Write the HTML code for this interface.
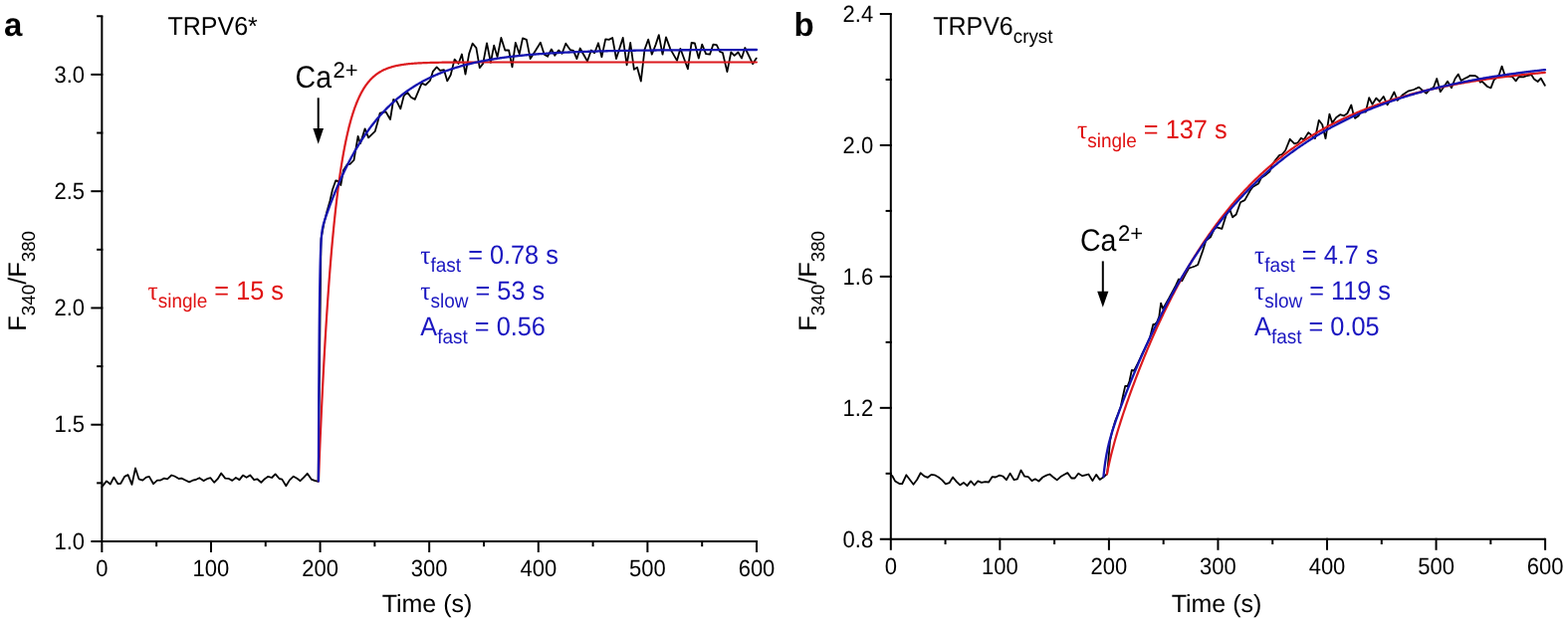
<!DOCTYPE html>
<html><head><meta charset="utf-8"><style>
html,body{margin:0;padding:0;background:#fff;}
svg{display:block;}
text{font-family:'Liberation Sans', Arial, sans-serif;text-rendering:geometricPrecision;}
</style></head><body>
<svg width="1575" height="625" viewBox="0 0 1575 625">
<rect width="1575" height="625" fill="#fff"/>
<line x1="102.35" y1="16.26" x2="102.35" y2="544.00" stroke="#000" stroke-width="2.0"/>
<line x1="91.35" y1="544.00" x2="760.00" y2="544.00" stroke="#000" stroke-width="2.0"/>
<line x1="102.35" y1="543.00" x2="102.35" y2="555.00" stroke="#000" stroke-width="2.0"/>
<line x1="211.96" y1="543.00" x2="211.96" y2="555.00" stroke="#000" stroke-width="2.0"/>
<line x1="321.57" y1="543.00" x2="321.57" y2="555.00" stroke="#000" stroke-width="2.0"/>
<line x1="431.17" y1="543.00" x2="431.17" y2="555.00" stroke="#000" stroke-width="2.0"/>
<line x1="540.78" y1="543.00" x2="540.78" y2="555.00" stroke="#000" stroke-width="2.0"/>
<line x1="650.39" y1="543.00" x2="650.39" y2="555.00" stroke="#000" stroke-width="2.0"/>
<line x1="760.00" y1="543.00" x2="760.00" y2="555.00" stroke="#000" stroke-width="2.0"/>
<line x1="157.15" y1="544.00" x2="157.15" y2="549.20" stroke="#000" stroke-width="2.0"/>
<line x1="266.76" y1="544.00" x2="266.76" y2="549.20" stroke="#000" stroke-width="2.0"/>
<line x1="376.37" y1="544.00" x2="376.37" y2="549.20" stroke="#000" stroke-width="2.0"/>
<line x1="485.98" y1="544.00" x2="485.98" y2="549.20" stroke="#000" stroke-width="2.0"/>
<line x1="595.59" y1="544.00" x2="595.59" y2="549.20" stroke="#000" stroke-width="2.0"/>
<line x1="705.20" y1="544.00" x2="705.20" y2="549.20" stroke="#000" stroke-width="2.0"/>
<line x1="91.35" y1="426.73" x2="103.35" y2="426.73" stroke="#000" stroke-width="2.0"/>
<line x1="91.35" y1="309.45" x2="103.35" y2="309.45" stroke="#000" stroke-width="2.0"/>
<line x1="91.35" y1="192.17" x2="103.35" y2="192.17" stroke="#000" stroke-width="2.0"/>
<line x1="91.35" y1="74.90" x2="103.35" y2="74.90" stroke="#000" stroke-width="2.0"/>
<line x1="97.15" y1="485.36" x2="103.35" y2="485.36" stroke="#000" stroke-width="2.0"/>
<line x1="97.15" y1="368.09" x2="103.35" y2="368.09" stroke="#000" stroke-width="2.0"/>
<line x1="97.15" y1="250.81" x2="103.35" y2="250.81" stroke="#000" stroke-width="2.0"/>
<line x1="97.15" y1="133.54" x2="103.35" y2="133.54" stroke="#000" stroke-width="2.0"/>
<line x1="97.15" y1="16.26" x2="103.35" y2="16.26" stroke="#000" stroke-width="2.0"/>
<line x1="894.80" y1="14.00" x2="894.80" y2="541.80" stroke="#000" stroke-width="2.0"/>
<line x1="883.80" y1="541.80" x2="1552.10" y2="541.80" stroke="#000" stroke-width="2.0"/>
<line x1="894.80" y1="540.80" x2="894.80" y2="552.80" stroke="#000" stroke-width="2.0"/>
<line x1="1004.35" y1="540.80" x2="1004.35" y2="552.80" stroke="#000" stroke-width="2.0"/>
<line x1="1113.90" y1="540.80" x2="1113.90" y2="552.80" stroke="#000" stroke-width="2.0"/>
<line x1="1223.45" y1="540.80" x2="1223.45" y2="552.80" stroke="#000" stroke-width="2.0"/>
<line x1="1333.00" y1="540.80" x2="1333.00" y2="552.80" stroke="#000" stroke-width="2.0"/>
<line x1="1442.55" y1="540.80" x2="1442.55" y2="552.80" stroke="#000" stroke-width="2.0"/>
<line x1="1552.10" y1="540.80" x2="1552.10" y2="552.80" stroke="#000" stroke-width="2.0"/>
<line x1="949.57" y1="541.80" x2="949.57" y2="547.00" stroke="#000" stroke-width="2.0"/>
<line x1="1059.12" y1="541.80" x2="1059.12" y2="547.00" stroke="#000" stroke-width="2.0"/>
<line x1="1168.67" y1="541.80" x2="1168.67" y2="547.00" stroke="#000" stroke-width="2.0"/>
<line x1="1278.22" y1="541.80" x2="1278.22" y2="547.00" stroke="#000" stroke-width="2.0"/>
<line x1="1387.78" y1="541.80" x2="1387.78" y2="547.00" stroke="#000" stroke-width="2.0"/>
<line x1="1497.32" y1="541.80" x2="1497.32" y2="547.00" stroke="#000" stroke-width="2.0"/>
<line x1="883.80" y1="409.85" x2="895.80" y2="409.85" stroke="#000" stroke-width="2.0"/>
<line x1="883.80" y1="277.90" x2="895.80" y2="277.90" stroke="#000" stroke-width="2.0"/>
<line x1="883.80" y1="145.95" x2="895.80" y2="145.95" stroke="#000" stroke-width="2.0"/>
<line x1="883.80" y1="14.00" x2="895.80" y2="14.00" stroke="#000" stroke-width="2.0"/>
<line x1="889.60" y1="475.82" x2="895.80" y2="475.82" stroke="#000" stroke-width="2.0"/>
<line x1="889.60" y1="343.88" x2="895.80" y2="343.88" stroke="#000" stroke-width="2.0"/>
<line x1="889.60" y1="211.93" x2="895.80" y2="211.93" stroke="#000" stroke-width="2.0"/>
<line x1="889.60" y1="79.98" x2="895.80" y2="79.98" stroke="#000" stroke-width="2.0"/>
<polyline points="102.40,489.30 107.00,483.40 110.80,486.50 114.30,479.60 118.50,486.20 121.30,485.80 125.10,478.90 128.60,477.10 132.50,486.90 136.00,470.50 139.50,481.30 143.30,482.70 146.80,479.60 149.90,478.90 154.10,486.20 158.00,482.70 160.80,482.70 164.90,480.60 168.10,481.30 172.30,477.50 175.40,478.50 179.60,481.00 182.40,480.60 186.20,482.50 190.10,484.40 193.60,482.70 196.70,482.00 200.30,480.20 204.40,483.10 207.90,481.20 211.50,480.20 215.10,484.80 218.70,481.20 222.20,475.50 226.20,480.60 229.40,480.80 233.30,482.90 236.90,480.00 240.50,482.10 244.00,477.60 247.60,479.80 251.20,477.40 255.20,482.10 258.30,481.30 262.30,484.80 265.90,481.20 269.40,478.80 273.00,480.00 276.60,476.40 280.60,481.00 283.30,481.60 287.30,488.30 290.90,482.40 294.80,478.70 298.40,480.80 301.60,483.20 305.20,479.60 308.70,475.80 312.70,481.60 315.90,482.90 319.60,483.80 322.50,240.00 325.50,224.00 328.50,212.00 331.40,202.00 334.00,190.50 337.20,181.50 339.50,182.00 342.30,186.00 345.00,171.00 348.80,165.20 351.60,164.80 355.50,160.90 359.60,137.00 362.00,144.20 366.60,129.30 370.10,138.40 376.80,131.80 379.40,122.40 381.70,113.60 387.50,112.30 392.00,120.00 395.20,100.00 398.40,101.60 402.30,109.40 405.60,96.50 409.00,92.60 412.90,97.70 416.80,99.90 423.60,83.70 427.50,85.30 432.00,80.90 434.80,71.90 438.70,67.40 442.10,70.80 446.00,70.20 449.30,81.40 452.70,75.30 456.60,59.60 460.50,64.00 463.90,54.50 467.50,74.60 471.20,53.90 474.60,43.70 478.40,48.10 481.80,68.20 485.20,63.90 489.00,43.30 492.90,62.90 496.20,45.70 499.60,57.20 503.40,38.00 507.30,50.50 511.10,50.50 514.50,67.30 517.80,42.80 521.70,54.30 525.00,38.40 528.90,39.90 532.70,59.10 537.80,51.00 542.90,42.80 546.70,54.80 550.10,56.70 553.90,49.50 557.30,55.70 561.10,50.50 564.50,53.80 568.30,43.70 572.70,50.00 576.00,50.90 579.40,59.10 582.70,48.50 586.30,55.00 590.00,61.50 593.80,50.50 597.20,53.30 601.00,43.30 604.40,57.20 608.20,39.40 611.60,39.90 615.20,38.00 619.00,59.00 625.70,37.90 629.60,65.40 633.20,43.00 636.90,69.90 640.00,67.60 643.80,81.60 647.50,49.70 651.20,39.60 654.80,54.70 658.70,44.60 661.80,35.10 665.50,54.70 669.00,37.40 673.30,49.10 680.00,60.90 683.40,48.80 690.90,69.30 694.60,43.00 697.90,43.50 701.80,58.60 705.20,44.60 709.10,54.20 713.00,54.70 716.40,44.60 719.80,45.20 723.10,51.90 725.90,53.00 730.40,72.10 734.30,52.50 737.70,55.80 741.40,52.50 745.00,58.60 748.30,48.00 752.20,56.00 756.10,64.20 759.70,58.60" fill="none" stroke="#000" stroke-width="1.8" stroke-linejoin="round" stroke-linecap="round"/>
<polyline points="895.00,477.50 896.20,478.00 899.10,483.40 903.40,486.10 906.30,486.00 910.30,477.30 917.50,486.70 921.10,482.00 924.70,475.30 928.30,478.40 931.90,479.80 935.50,476.90 938.70,477.30 942.70,479.50 946.30,482.40 949.90,486.30 953.50,485.20 957.10,479.50 960.70,483.80 964.30,487.40 967.90,484.90 971.50,488.10 975.10,483.40 978.70,487.50 982.30,483.40 985.90,484.90 989.50,484.20 993.10,484.50 996.70,479.10 1000.00,479.50 1004.00,477.60 1007.30,478.50 1010.90,482.20 1014.60,475.60 1018.60,482.20 1021.90,481.30 1025.50,472.50 1029.20,478.70 1032.80,479.10 1036.50,483.10 1039.80,481.30 1043.40,483.50 1047.40,479.50 1051.10,477.60 1054.40,476.50 1058.00,479.50 1061.70,482.40 1065.30,479.10 1068.80,477.00 1072.30,475.10 1076.30,480.50 1079.60,480.50 1083.20,475.80 1087.20,478.20 1090.30,477.30 1093.40,476.50 1097.40,483.10 1101.10,476.90 1104.70,481.90 1108.20,479.60 1112.20,476.00 1115.00,443.00 1117.00,434.00 1120.20,423.00 1123.00,416.00 1125.80,408.50 1127.50,400.00 1130.20,388.00 1132.60,388.00 1134.50,383.00 1136.80,372.00 1139.20,372.50 1143.00,365.00 1146.60,357.00 1150.40,349.40 1152.50,345.00 1155.10,339.00 1158.30,326.00 1159.80,326.00 1162.00,324.00 1164.30,318.00 1166.10,304.60 1168.00,310.00 1170.00,307.00 1174.00,300.00 1177.50,293.50 1181.00,287.00 1184.00,280.50 1187.20,282.40 1191.00,275.00 1194.20,269.50 1197.40,268.50 1200.30,267.50 1203.20,266.00 1208.00,252.40 1211.20,242.00 1216.00,238.00 1219.40,230.60 1222.20,228.40 1227.30,229.90 1231.60,216.20 1235.20,210.40 1238.10,218.30 1241.70,215.50 1246.00,203.20 1250.30,201.10 1256.00,191.00 1258.20,188.10 1264.00,184.50 1266.80,178.80 1270.40,176.60 1275.50,172.30 1277.60,165.80 1281.20,160.80 1285.00,156.00 1288.00,155.00 1291.20,151.00 1295.70,139.80 1300.20,144.30 1303.50,143.50 1306.90,138.70 1309.70,140.40 1314.20,133.10 1317.50,135.90 1320.90,139.20 1324.80,120.80 1328.20,125.20 1331.50,139.20 1335.40,114.60 1338.20,123.60 1342.20,118.00 1346.10,115.20 1350.00,116.30 1353.30,114.00 1357.30,105.50 1359.50,114.90 1361.20,118.80 1364.50,116.60 1367.30,112.10 1371.80,112.60 1375.20,98.10 1378.50,104.80 1382.40,98.60 1385.80,102.00 1389.70,97.00 1393.60,105.40 1397.00,99.20 1400.40,92.50 1403.70,100.90 1408.60,95.60 1414.20,91.70 1420.20,90.00 1425.30,87.60 1429.50,91.40 1432.80,93.70 1436.00,90.00 1440.00,87.80 1443.20,79.00 1446.80,92.20 1450.50,87.00 1454.00,81.80 1458.00,88.20 1461.60,79.00 1464.80,74.60 1467.60,81.00 1471.00,79.00 1474.40,77.40 1476.40,76.00 1482.00,76.20 1484.40,77.80 1486.80,82.60 1488.80,81.80 1494.00,87.00 1497.50,88.40 1500.60,80.40 1505.40,76.20 1508.60,66.60 1511.60,75.80 1515.80,76.60 1519.00,77.00 1522.60,81.40 1525.80,77.00 1530.20,77.40 1534.00,76.00 1538.20,75.00 1541.00,79.60 1544.60,82.00 1547.80,78.70 1551.80,85.80" fill="none" stroke="#000" stroke-width="1.8" stroke-linejoin="round" stroke-linecap="round"/>
<polyline points="319.90,483.50 320.40,470.89 320.90,458.66 321.40,446.79 321.90,435.28 322.40,424.11 322.90,413.28 323.40,402.77 323.90,392.58 324.40,382.69 324.90,373.10 325.40,363.79 325.90,354.77 326.40,346.01 326.90,337.52 327.40,329.28 327.90,321.29 328.40,313.54 328.90,306.02 329.40,298.72 329.90,291.65 330.40,284.78 330.90,278.12 331.40,271.66 331.90,265.40 332.40,259.32 332.90,253.42 333.40,247.71 333.90,242.16 334.40,236.78 334.90,231.55 335.40,226.49 335.90,221.58 336.40,216.81 336.90,212.19 337.40,207.71 337.90,203.36 338.40,199.14 338.90,195.04 339.40,191.07 339.90,187.22 340.40,183.49 340.90,179.86 341.40,176.35 341.90,172.94 342.40,169.63 342.90,166.42 343.40,163.31 343.90,160.29 344.40,157.36 344.90,154.51 345.40,151.76 345.90,149.08 346.40,146.49 346.90,143.98 347.40,141.53 347.90,139.17 348.40,136.87 348.90,134.64 349.40,132.48 349.90,130.39 350.40,128.35 350.90,126.38 351.40,124.47 351.90,122.61 352.40,120.81 352.90,119.06 353.40,117.37 353.90,115.72 354.40,114.13 354.90,112.58 355.40,111.08 355.90,109.63 356.40,108.22 356.90,106.85 357.40,105.52 357.90,104.23 358.40,102.98 358.90,101.77 359.40,100.59 359.90,99.45 360.40,98.34 360.90,97.27 361.40,96.23 361.90,95.22 362.40,94.24 362.90,93.29 363.40,92.36 363.90,91.47 364.40,90.60 364.90,89.76 365.40,88.94 365.90,88.15 366.40,87.38 366.90,86.64 367.40,85.91 367.90,85.21 368.40,84.53 368.90,83.87 369.40,83.23 369.90,82.61 370.40,82.01 370.90,81.42 371.40,80.86 371.90,80.31 372.40,79.77 372.90,79.26 373.40,78.75 373.90,78.27 374.40,77.80 374.90,77.34 375.40,76.89 375.90,76.46 376.40,76.04 376.90,75.64 377.40,75.24 377.90,74.86 378.40,74.49 378.90,74.13 379.40,73.78 379.90,73.45 380.40,73.12 380.90,72.80 381.40,72.49 381.90,72.19 382.40,71.90 382.90,71.62 383.40,71.35 383.90,71.08 384.40,70.83 384.90,70.58 385.40,70.33 385.90,70.10 386.40,69.87 386.90,69.65 387.40,69.44 387.90,69.23 388.40,69.03 388.90,68.83 389.40,68.64 389.90,68.46 390.40,68.28 390.90,68.11 391.40,67.94 391.90,67.78 392.40,67.62 392.90,67.46 393.40,67.32 393.90,67.17 394.40,67.03 394.90,66.90 395.40,66.76 395.90,66.64 396.40,66.51 396.90,66.39 397.40,66.28 397.90,66.16 398.40,66.05 398.90,65.95 399.40,65.84 399.90,65.74 400.40,65.65 400.90,65.55 401.40,65.46 401.90,65.37 402.40,65.29 402.90,65.20 403.40,65.12 403.90,65.04 404.40,64.97 404.90,64.89 405.40,64.82 405.90,64.75 406.40,64.68 406.90,64.62 407.40,64.55 407.90,64.49 408.40,64.43 408.90,64.38 409.40,64.32 409.90,64.27 410.40,64.21 410.90,64.16 411.40,64.11 411.90,64.06 412.40,64.02 412.90,63.97 413.40,63.93 413.90,63.88 414.40,63.84 414.90,63.80 415.40,63.76 415.90,63.73 416.40,63.69 416.90,63.65 417.40,63.62 417.90,63.58 418.40,63.55 418.90,63.52 419.40,63.49 419.90,63.46 420.40,63.43 420.90,63.40 421.40,63.38 421.90,63.35 422.40,63.33 422.90,63.30 423.40,63.28 423.90,63.25 424.40,63.23 424.90,63.21 425.40,63.19 425.90,63.17 426.40,63.15 426.90,63.13 427.40,63.11 427.90,63.09 428.40,63.07 428.90,63.06 429.40,63.04 429.90,63.02 430.40,63.01 430.90,62.99 431.40,62.98 431.90,62.96 432.40,62.95 432.90,62.94 433.40,62.92 433.90,62.91 434.40,62.90 434.90,62.89 435.40,62.87 435.90,62.86 436.40,62.85 436.90,62.84 437.40,62.83 437.90,62.82 438.40,62.81 438.90,62.80 439.40,62.79 439.90,62.78 440.40,62.78 440.90,62.77 441.40,62.76 441.90,62.75 442.40,62.74 442.90,62.74 443.40,62.73 443.90,62.72 444.40,62.72 444.90,62.71 445.40,62.70 445.90,62.70 446.40,62.69 446.90,62.69 447.40,62.68 447.90,62.67 448.40,62.67 448.90,62.66 449.40,62.66 449.90,62.65 450.40,62.65 450.90,62.65 451.40,62.64 451.90,62.64 452.40,62.63 452.90,62.63 453.40,62.63 453.90,62.62 454.40,62.62 454.90,62.61 455.40,62.61 455.90,62.61 456.40,62.60 456.90,62.60 457.40,62.60 457.90,62.60 458.40,62.59 458.90,62.59 459.40,62.59 459.90,62.58 460.40,62.58 460.90,62.58 461.40,62.58 461.90,62.57 462.40,62.57 462.90,62.57 463.40,62.57 463.90,62.57 464.40,62.56 464.90,62.56 465.40,62.56 465.90,62.56 466.40,62.56 466.90,62.56 467.40,62.55 467.90,62.55 468.40,62.55 468.90,62.55 469.40,62.55 469.90,62.55 470.40,62.54 470.90,62.54 471.40,62.54 471.90,62.54 472.40,62.54 472.90,62.54 473.40,62.54 473.90,62.54 474.40,62.53 474.90,62.53 475.40,62.53 475.90,62.53 476.40,62.53 476.90,62.53 477.40,62.53 477.90,62.53 478.40,62.53 478.90,62.53 479.40,62.53 479.90,62.52 480.40,62.52 480.90,62.52 481.40,62.52 481.90,62.52 482.40,62.52 482.90,62.52 483.40,62.52 483.90,62.52 484.40,62.52 484.90,62.52 485.40,62.52 485.90,62.52 486.40,62.52 486.90,62.52 487.40,62.52 487.90,62.52 488.40,62.51 488.90,62.51 489.40,62.51 489.90,62.51 490.40,62.51 490.90,62.51 491.40,62.51 491.90,62.51 492.40,62.51 492.90,62.51 493.40,62.51 493.90,62.51 494.40,62.51 494.90,62.51 495.40,62.51 495.90,62.51 496.40,62.51 496.90,62.51 497.40,62.51 497.90,62.51 498.40,62.51 498.90,62.51 499.40,62.51 499.90,62.51 500.40,62.51 500.90,62.51 501.40,62.51 501.90,62.51 502.40,62.51 502.90,62.51 503.40,62.51 503.90,62.51 504.40,62.51 504.90,62.51 505.40,62.51 505.90,62.51 506.40,62.50 506.90,62.50 507.40,62.50 507.90,62.50 508.40,62.50 508.90,62.50 509.40,62.50 509.90,62.50 510.40,62.50 510.90,62.50 511.40,62.50 511.90,62.50 512.40,62.50 512.90,62.50 513.40,62.50 513.90,62.50 514.40,62.50 514.90,62.50 515.40,62.50 515.90,62.50 516.40,62.50 516.90,62.50 517.40,62.50 517.90,62.50 518.40,62.50 518.90,62.50 519.40,62.50 519.90,62.50 520.40,62.50 520.90,62.50 521.40,62.50 521.90,62.50 522.40,62.50 522.90,62.50 523.40,62.50 523.90,62.50 524.40,62.50 524.90,62.50 525.40,62.50 525.90,62.50 526.40,62.50 526.90,62.50 527.40,62.50 527.90,62.50 528.40,62.50 528.90,62.50 529.40,62.50 529.90,62.50 530.40,62.50 530.90,62.50 531.40,62.50 531.90,62.50 532.40,62.50 532.90,62.50 533.40,62.50 533.90,62.50 534.40,62.50 534.90,62.50 535.40,62.50 535.90,62.50 536.40,62.50 536.90,62.50 537.40,62.50 537.90,62.50 538.40,62.50 538.90,62.50 539.40,62.50 539.90,62.50 540.40,62.50 540.90,62.50 541.40,62.50 541.90,62.50 542.40,62.50 542.90,62.50 543.40,62.50 543.90,62.50 544.40,62.50 544.90,62.50 545.40,62.50 545.90,62.50 546.40,62.50 546.90,62.50 547.40,62.50 547.90,62.50 548.40,62.50 548.90,62.50 549.40,62.50 549.90,62.50 550.40,62.50 550.90,62.50 551.40,62.50 551.90,62.50 552.40,62.50 552.90,62.50 553.40,62.50 553.90,62.50 554.40,62.50 554.90,62.50 555.40,62.50 555.90,62.50 556.40,62.50 556.90,62.50 557.40,62.50 557.90,62.50 558.40,62.50 558.90,62.50 559.40,62.50 559.90,62.50 560.40,62.50 560.90,62.50 561.40,62.50 561.90,62.50 562.40,62.50 562.90,62.50 563.40,62.50 563.90,62.50 564.40,62.50 564.90,62.50 565.40,62.50 565.90,62.50 566.40,62.50 566.90,62.50 567.40,62.50 567.90,62.50 568.40,62.50 568.90,62.50 569.40,62.50 569.90,62.50 570.40,62.50 570.90,62.50 571.40,62.50 571.90,62.50 572.40,62.50 572.90,62.50 573.40,62.50 573.90,62.50 574.40,62.50 574.90,62.50 575.40,62.50 575.90,62.50 576.40,62.50 576.90,62.50 577.40,62.50 577.90,62.50 578.40,62.50 578.90,62.50 579.40,62.50 579.90,62.50 580.40,62.50 580.90,62.50 581.40,62.50 581.90,62.50 582.40,62.50 582.90,62.50 583.40,62.50 583.90,62.50 584.40,62.50 584.90,62.50 585.40,62.50 585.90,62.50 586.40,62.50 586.90,62.50 587.40,62.50 587.90,62.50 588.40,62.50 588.90,62.50 589.40,62.50 589.90,62.50 590.40,62.50 590.90,62.50 591.40,62.50 591.90,62.50 592.40,62.50 592.90,62.50 593.40,62.50 593.90,62.50 594.40,62.50 594.90,62.50 595.40,62.50 595.90,62.50 596.40,62.50 596.90,62.50 597.40,62.50 597.90,62.50 598.40,62.50 598.90,62.50 599.40,62.50 599.90,62.50 600.40,62.50 600.90,62.50 601.40,62.50 601.90,62.50 602.40,62.50 602.90,62.50 603.40,62.50 603.90,62.50 604.40,62.50 604.90,62.50 605.40,62.50 605.90,62.50 606.40,62.50 606.90,62.50 607.40,62.50 607.90,62.50 608.40,62.50 608.90,62.50 609.40,62.50 609.90,62.50 610.40,62.50 610.90,62.50 611.40,62.50 611.90,62.50 612.40,62.50 612.90,62.50 613.40,62.50 613.90,62.50 614.40,62.50 614.90,62.50 615.40,62.50 615.90,62.50 616.40,62.50 616.90,62.50 617.40,62.50 617.90,62.50 618.40,62.50 618.90,62.50 619.40,62.50 619.90,62.50 620.40,62.50 620.90,62.50 621.40,62.50 621.90,62.50 622.40,62.50 622.90,62.50 623.40,62.50 623.90,62.50 624.40,62.50 624.90,62.50 625.40,62.50 625.90,62.50 626.40,62.50 626.90,62.50 627.40,62.50 627.90,62.50 628.40,62.50 628.90,62.50 629.40,62.50 629.90,62.50 630.40,62.50 630.90,62.50 631.40,62.50 631.90,62.50 632.40,62.50 632.90,62.50 633.40,62.50 633.90,62.50 634.40,62.50 634.90,62.50 635.40,62.50 635.90,62.50 636.40,62.50 636.90,62.50 637.40,62.50 637.90,62.50 638.40,62.50 638.90,62.50 639.40,62.50 639.90,62.50 640.40,62.50 640.90,62.50 641.40,62.50 641.90,62.50 642.40,62.50 642.90,62.50 643.40,62.50 643.90,62.50 644.40,62.50 644.90,62.50 645.40,62.50 645.90,62.50 646.40,62.50 646.90,62.50 647.40,62.50 647.90,62.50 648.40,62.50 648.90,62.50 649.40,62.50 649.90,62.50 650.40,62.50 650.90,62.50 651.40,62.50 651.90,62.50 652.40,62.50 652.90,62.50 653.40,62.50 653.90,62.50 654.40,62.50 654.90,62.50 655.40,62.50 655.90,62.50 656.40,62.50 656.90,62.50 657.40,62.50 657.90,62.50 658.40,62.50 658.90,62.50 659.40,62.50 659.90,62.50 660.40,62.50 660.90,62.50 661.40,62.50 661.90,62.50 662.40,62.50 662.90,62.50 663.40,62.50 663.90,62.50 664.40,62.50 664.90,62.50 665.40,62.50 665.90,62.50 666.40,62.50 666.90,62.50 667.40,62.50 667.90,62.50 668.40,62.50 668.90,62.50 669.40,62.50 669.90,62.50 670.40,62.50 670.90,62.50 671.40,62.50 671.90,62.50 672.40,62.50 672.90,62.50 673.40,62.50 673.90,62.50 674.40,62.50 674.90,62.50 675.40,62.50 675.90,62.50 676.40,62.50 676.90,62.50 677.40,62.50 677.90,62.50 678.40,62.50 678.90,62.50 679.40,62.50 679.90,62.50 680.40,62.50 680.90,62.50 681.40,62.50 681.90,62.50 682.40,62.50 682.90,62.50 683.40,62.50 683.90,62.50 684.40,62.50 684.90,62.50 685.40,62.50 685.90,62.50 686.40,62.50 686.90,62.50 687.40,62.50 687.90,62.50 688.40,62.50 688.90,62.50 689.40,62.50 689.90,62.50 690.40,62.50 690.90,62.50 691.40,62.50 691.90,62.50 692.40,62.50 692.90,62.50 693.40,62.50 693.90,62.50 694.40,62.50 694.90,62.50 695.40,62.50 695.90,62.50 696.40,62.50 696.90,62.50 697.40,62.50 697.90,62.50 698.40,62.50 698.90,62.50 699.40,62.50 699.90,62.50 700.40,62.50 700.90,62.50 701.40,62.50 701.90,62.50 702.40,62.50 702.90,62.50 703.40,62.50 703.90,62.50 704.40,62.50 704.90,62.50 705.40,62.50 705.90,62.50 706.40,62.50 706.90,62.50 707.40,62.50 707.90,62.50 708.40,62.50 708.90,62.50 709.40,62.50 709.90,62.50 710.40,62.50 710.90,62.50 711.40,62.50 711.90,62.50 712.40,62.50 712.90,62.50 713.40,62.50 713.90,62.50 714.40,62.50 714.90,62.50 715.40,62.50 715.90,62.50 716.40,62.50 716.90,62.50 717.40,62.50 717.90,62.50 718.40,62.50 718.90,62.50 719.40,62.50 719.90,62.50 720.40,62.50 720.90,62.50 721.40,62.50 721.90,62.50 722.40,62.50 722.90,62.50 723.40,62.50 723.90,62.50 724.40,62.50 724.90,62.50 725.40,62.50 725.90,62.50 726.40,62.50 726.90,62.50 727.40,62.50 727.90,62.50 728.40,62.50 728.90,62.50 729.40,62.50 729.90,62.50 730.40,62.50 730.90,62.50 731.40,62.50 731.90,62.50 732.40,62.50 732.90,62.50 733.40,62.50 733.90,62.50 734.40,62.50 734.90,62.50 735.40,62.50 735.90,62.50 736.40,62.50 736.90,62.50 737.40,62.50 737.90,62.50 738.40,62.50 738.90,62.50 739.40,62.50 739.90,62.50 740.40,62.50 740.90,62.50 741.40,62.50 741.90,62.50 742.40,62.50 742.90,62.50 743.40,62.50 743.90,62.50 744.40,62.50 744.90,62.50 745.40,62.50 745.90,62.50 746.40,62.50 746.90,62.50 747.40,62.50 747.90,62.50 748.40,62.50 748.90,62.50 749.40,62.50 749.90,62.50 750.40,62.50 750.90,62.50 751.40,62.50 751.90,62.50 752.40,62.50 752.90,62.50 753.40,62.50 753.90,62.50 754.40,62.50 754.90,62.50 755.40,62.50 755.90,62.50 756.40,62.50 756.90,62.50 757.40,62.50 757.90,62.50 758.40,62.50 758.90,62.50 759.40,62.50 759.90,62.50" fill="none" stroke="#dc1a1e" stroke-width="2.2" stroke-linejoin="round" stroke-linecap="round"/>
<polyline points="319.90,483.50 320.00,456.32 320.10,432.11 320.20,410.53 320.30,391.30 320.40,374.15 320.50,358.87 320.60,345.24 320.70,333.07 320.80,322.22 320.90,312.52 321.00,303.87 321.10,296.13 321.20,289.21 321.30,283.02 321.40,277.48 321.50,272.52 321.60,268.07 321.70,264.08 321.80,260.49 321.90,257.27 322.00,254.37 322.10,251.75 322.20,249.39 322.30,247.26 322.40,245.32 322.50,243.57 322.60,241.97 322.70,240.52 322.80,239.20 322.90,237.99 323.00,236.87 323.10,235.85 323.20,234.91 323.30,234.03 323.40,233.22 323.50,232.47 323.60,231.77 323.70,231.11 323.80,230.49 323.90,229.90 324.00,229.35 324.10,228.83 324.20,228.33 324.30,227.85 324.40,227.39 324.50,226.95 324.60,226.53 324.70,226.12 324.80,225.72 324.90,225.34 325.00,224.96 325.10,224.60 325.20,224.24 325.30,223.89 325.40,223.54 325.50,223.20 325.60,222.87 325.70,222.54 325.80,222.22 325.90,221.90 326.00,221.58 326.00,221.58 327.00,218.55 328.00,215.65 329.00,212.83 330.00,210.07 331.00,207.36 332.00,204.70 333.00,202.08 334.00,199.50 335.00,196.97 336.00,194.48 337.00,192.04 338.00,189.63 339.00,187.27 340.00,184.94 341.00,182.66 342.00,180.41 343.00,178.20 344.00,176.03 345.00,173.90 346.00,171.80 347.00,169.74 348.00,167.71 349.00,165.72 350.00,163.76 351.00,161.83 352.00,159.94 353.00,158.08 354.00,156.25 355.00,154.45 356.00,152.68 357.00,150.94 358.00,149.23 359.00,147.55 360.00,145.90 361.00,144.27 362.00,142.67 363.00,141.10 364.00,139.56 365.00,138.04 366.00,136.55 367.00,135.09 368.00,133.65 369.00,132.23 370.00,130.84 371.00,129.47 372.00,128.12 373.00,126.80 374.00,125.50 375.00,124.22 376.00,122.96 377.00,121.72 378.00,120.51 379.00,119.31 380.00,118.14 381.00,116.98 382.00,115.85 383.00,114.73 384.00,113.64 385.00,112.56 386.00,111.50 387.00,110.45 388.00,109.43 389.00,108.42 390.00,107.43 391.00,106.46 392.00,105.50 393.00,104.56 394.00,103.64 395.00,102.73 396.00,101.83 397.00,100.95 398.00,100.09 399.00,99.24 400.00,98.41 401.00,97.59 402.00,96.78 403.00,95.99 404.00,95.21 405.00,94.44 406.00,93.69 407.00,92.95 408.00,92.22 409.00,91.50 410.00,90.80 411.00,90.11 412.00,89.42 413.00,88.76 414.00,88.10 415.00,87.45 416.00,86.82 417.00,86.19 418.00,85.58 419.00,84.97 420.00,84.38 421.00,83.80 422.00,83.22 423.00,82.66 424.00,82.11 425.00,81.56 426.00,81.03 427.00,80.50 428.00,79.98 429.00,79.47 430.00,78.97 431.00,78.48 432.00,78.00 433.00,77.52 434.00,77.05 435.00,76.59 436.00,76.14 437.00,75.70 438.00,75.26 439.00,74.83 440.00,74.41 441.00,74.00 442.00,73.59 443.00,73.19 444.00,72.79 445.00,72.41 446.00,72.03 447.00,71.65 448.00,71.28 449.00,70.92 450.00,70.57 451.00,70.22 452.00,69.87 453.00,69.53 454.00,69.20 455.00,68.88 456.00,68.55 457.00,68.24 458.00,67.93 459.00,67.62 460.00,67.32 461.00,67.03 462.00,66.74 463.00,66.45 464.00,66.17 465.00,65.90 466.00,65.63 467.00,65.36 468.00,65.10 469.00,64.84 470.00,64.59 471.00,64.34 472.00,64.10 473.00,63.86 474.00,63.62 475.00,63.39 476.00,63.16 477.00,62.94 478.00,62.72 479.00,62.50 480.00,62.29 481.00,62.08 482.00,61.87 483.00,61.67 484.00,61.47 485.00,61.27 486.00,61.08 487.00,60.89 488.00,60.70 489.00,60.52 490.00,60.34 491.00,60.17 492.00,59.99 493.00,59.82 494.00,59.65 495.00,59.49 496.00,59.33 497.00,59.17 498.00,59.01 499.00,58.86 500.00,58.70 501.00,58.56 502.00,58.41 503.00,58.26 504.00,58.12 505.00,57.98 506.00,57.85 507.00,57.71 508.00,57.58 509.00,57.45 510.00,57.32 511.00,57.20 512.00,57.07 513.00,56.95 514.00,56.83 515.00,56.72 516.00,56.60 517.00,56.49 518.00,56.38 519.00,56.27 520.00,56.16 521.00,56.05 522.00,55.95 523.00,55.85 524.00,55.75 525.00,55.65 526.00,55.55 527.00,55.45 528.00,55.36 529.00,55.27 530.00,55.18 531.00,55.09 532.00,55.00 533.00,54.91 534.00,54.83 535.00,54.75 536.00,54.66 537.00,54.58 538.00,54.50 539.00,54.43 540.00,54.35 541.00,54.27 542.00,54.20 543.00,54.13 544.00,54.06 545.00,53.98 546.00,53.92 547.00,53.85 548.00,53.78 549.00,53.72 550.00,53.65 551.00,53.59 552.00,53.52 553.00,53.46 554.00,53.40 555.00,53.34 556.00,53.29 557.00,53.23 558.00,53.17 559.00,53.12 560.00,53.06 561.00,53.01 562.00,52.96 563.00,52.90 564.00,52.85 565.00,52.80 566.00,52.75 567.00,52.71 568.00,52.66 569.00,52.61 570.00,52.57 571.00,52.52 572.00,52.48 573.00,52.43 574.00,52.39 575.00,52.35 576.00,52.31 577.00,52.27 578.00,52.23 579.00,52.19 580.00,52.15 581.00,52.11 582.00,52.07 583.00,52.04 584.00,52.00 585.00,51.96 586.00,51.93 587.00,51.89 588.00,51.86 589.00,51.83 590.00,51.80 591.00,51.76 592.00,51.73 593.00,51.70 594.00,51.67 595.00,51.64 596.00,51.61 597.00,51.58 598.00,51.55 599.00,51.53 600.00,51.50 601.00,51.47 602.00,51.44 603.00,51.42 604.00,51.39 605.00,51.37 606.00,51.34 607.00,51.32 608.00,51.29 609.00,51.27 610.00,51.25 611.00,51.22 612.00,51.20 613.00,51.18 614.00,51.16 615.00,51.14 616.00,51.12 617.00,51.10 618.00,51.08 619.00,51.06 620.00,51.04 621.00,51.02 622.00,51.00 623.00,50.98 624.00,50.96 625.00,50.94 626.00,50.93 627.00,50.91 628.00,50.89 629.00,50.87 630.00,50.86 631.00,50.84 632.00,50.83 633.00,50.81 634.00,50.79 635.00,50.78 636.00,50.76 637.00,50.75 638.00,50.74 639.00,50.72 640.00,50.71 641.00,50.69 642.00,50.68 643.00,50.67 644.00,50.65 645.00,50.64 646.00,50.63 647.00,50.62 648.00,50.60 649.00,50.59 650.00,50.58 651.00,50.57 652.00,50.56 653.00,50.55 654.00,50.54 655.00,50.53 656.00,50.51 657.00,50.50 658.00,50.49 659.00,50.48 660.00,50.47 661.00,50.46 662.00,50.45 663.00,50.45 664.00,50.44 665.00,50.43 666.00,50.42 667.00,50.41 668.00,50.40 669.00,50.39 670.00,50.38 671.00,50.38 672.00,50.37 673.00,50.36 674.00,50.35 675.00,50.34 676.00,50.34 677.00,50.33 678.00,50.32 679.00,50.32 680.00,50.31 681.00,50.30 682.00,50.29 683.00,50.29 684.00,50.28 685.00,50.27 686.00,50.27 687.00,50.26 688.00,50.26 689.00,50.25 690.00,50.24 691.00,50.24 692.00,50.23 693.00,50.23 694.00,50.22 695.00,50.22 696.00,50.21 697.00,50.21 698.00,50.20 699.00,50.20 700.00,50.19 701.00,50.19 702.00,50.18 703.00,50.18 704.00,50.17 705.00,50.17 706.00,50.16 707.00,50.16 708.00,50.15 709.00,50.15 710.00,50.14 711.00,50.14 712.00,50.14 713.00,50.13 714.00,50.13 715.00,50.12 716.00,50.12 717.00,50.12 718.00,50.11 719.00,50.11 720.00,50.11 721.00,50.10 722.00,50.10 723.00,50.10 724.00,50.09 725.00,50.09 726.00,50.09 727.00,50.08 728.00,50.08 729.00,50.08 730.00,50.07 731.00,50.07 732.00,50.07 733.00,50.07 734.00,50.06 735.00,50.06 736.00,50.06 737.00,50.05 738.00,50.05 739.00,50.05 740.00,50.05 741.00,50.04 742.00,50.04 743.00,50.04 744.00,50.04 745.00,50.03 746.00,50.03 747.00,50.03 748.00,50.03 749.00,50.03 750.00,50.02 751.00,50.02 752.00,50.02 753.00,50.02 754.00,50.02 755.00,50.01 756.00,50.01 757.00,50.01 758.00,50.01 759.00,50.01 760.00,50.00" fill="none" stroke="#1414b0" stroke-width="2.3" stroke-linejoin="round" stroke-linecap="round"/>
<polyline points="1111.80,476.50 1112.80,471.58 1113.80,466.93 1114.80,462.52 1115.80,458.32 1116.80,454.30 1117.80,450.44 1118.80,446.70 1119.80,443.08 1120.80,439.57 1121.80,436.14 1122.80,432.80 1123.80,429.52 1124.80,426.31 1125.80,423.16 1126.80,420.06 1127.80,417.01 1128.80,414.00 1129.80,411.03 1130.80,408.09 1131.80,405.20 1132.80,402.33 1133.80,399.50 1134.80,396.70 1135.80,393.93 1136.80,391.18 1137.80,388.46 1138.80,385.77 1139.80,383.10 1140.80,380.45 1141.80,377.83 1142.80,375.24 1143.80,372.66 1144.80,370.11 1145.80,367.58 1146.80,365.07 1147.80,362.58 1148.80,360.11 1149.80,357.67 1150.80,355.24 1151.80,352.84 1152.80,350.45 1153.80,348.09 1154.80,345.74 1155.80,343.42 1156.80,341.11 1157.80,338.82 1158.80,336.55 1159.80,334.30 1160.80,332.07 1161.80,329.86 1162.80,327.66 1163.80,325.48 1164.80,323.32 1165.80,321.18 1166.80,319.06 1167.80,316.95 1168.80,314.86 1169.80,312.79 1170.80,310.74 1171.80,308.70 1172.80,306.68 1173.80,304.67 1174.80,302.68 1175.80,300.71 1176.80,298.75 1177.80,296.81 1178.80,294.89 1179.80,292.98 1180.80,291.09 1181.80,289.21 1182.80,287.35 1183.80,285.50 1184.80,283.67 1185.80,281.86 1186.80,280.05 1187.80,278.27 1188.80,276.49 1189.80,274.74 1190.80,272.99 1191.80,271.27 1192.80,269.55 1193.80,267.85 1194.80,266.16 1195.80,264.49 1196.80,262.83 1197.80,261.19 1198.80,259.55 1199.80,257.93 1200.80,256.33 1201.80,254.74 1202.80,253.16 1203.80,251.59 1204.80,250.04 1205.80,248.50 1206.80,246.97 1207.80,245.45 1208.80,243.95 1209.80,242.46 1210.80,240.98 1211.80,239.52 1212.80,238.06 1213.80,236.62 1214.80,235.19 1215.80,233.77 1216.80,232.36 1217.80,230.97 1218.80,229.58 1219.80,228.21 1220.80,226.85 1221.80,225.50 1222.80,224.16 1223.80,222.83 1224.80,221.51 1225.80,220.20 1226.80,218.91 1227.80,217.62 1228.80,216.35 1229.80,215.08 1230.80,213.83 1231.80,212.58 1232.80,211.35 1233.80,210.13 1234.80,208.91 1235.80,207.71 1236.80,206.52 1237.80,205.33 1238.80,204.16 1239.80,202.99 1240.80,201.84 1241.80,200.69 1242.80,199.56 1243.80,198.43 1244.80,197.31 1245.80,196.20 1246.80,195.10 1247.80,194.01 1248.80,192.93 1249.80,191.86 1250.80,190.80 1251.80,189.74 1252.80,188.70 1253.80,187.66 1254.80,186.63 1255.80,185.61 1256.80,184.59 1257.80,183.59 1258.80,182.59 1259.80,181.61 1260.80,180.63 1261.80,179.66 1262.80,178.69 1263.80,177.74 1264.80,176.79 1265.80,175.85 1266.80,174.91 1267.80,173.99 1268.80,173.07 1269.80,172.16 1270.80,171.26 1271.80,170.37 1272.80,169.48 1273.80,168.60 1274.80,167.72 1275.80,166.86 1276.80,166.00 1277.80,165.15 1278.80,164.30 1279.80,163.47 1280.80,162.63 1281.80,161.81 1282.80,160.99 1283.80,160.18 1284.80,159.38 1285.80,158.58 1286.80,157.79 1287.80,157.01 1288.80,156.23 1289.80,155.46 1290.80,154.69 1291.80,153.93 1292.80,153.18 1293.80,152.43 1294.80,151.69 1295.80,150.96 1296.80,150.23 1297.80,149.51 1298.80,148.79 1299.80,148.08 1300.80,147.37 1301.80,146.67 1302.80,145.98 1303.80,145.29 1304.80,144.61 1305.80,143.93 1306.80,143.26 1307.80,142.60 1308.80,141.94 1309.80,141.28 1310.80,140.63 1311.80,139.99 1312.80,139.35 1313.80,138.72 1314.80,138.09 1315.80,137.47 1316.80,136.85 1317.80,136.24 1318.80,135.63 1319.80,135.03 1320.80,134.43 1321.80,133.84 1322.80,133.25 1323.80,132.66 1324.80,132.09 1325.80,131.51 1326.80,130.94 1327.80,130.38 1328.80,129.82 1329.80,129.26 1330.80,128.71 1331.80,128.17 1332.80,127.62 1333.80,127.09 1334.80,126.55 1335.80,126.03 1336.80,125.50 1337.80,124.98 1338.80,124.47 1339.80,123.96 1340.80,123.45 1341.80,122.95 1342.80,122.45 1343.80,121.95 1344.80,121.46 1345.80,120.97 1346.80,120.49 1347.80,120.01 1348.80,119.54 1349.80,119.07 1350.80,118.60 1351.80,118.14 1352.80,117.68 1353.80,117.22 1354.80,116.77 1355.80,116.32 1356.80,115.88 1357.80,115.44 1358.80,115.00 1359.80,114.57 1360.80,114.14 1361.80,113.71 1362.80,113.29 1363.80,112.87 1364.80,112.45 1365.80,112.04 1366.80,111.63 1367.80,111.22 1368.80,110.82 1369.80,110.42 1370.80,110.02 1371.80,109.63 1372.80,109.24 1373.80,108.85 1374.80,108.47 1375.80,108.09 1376.80,107.71 1377.80,107.34 1378.80,106.97 1379.80,106.60 1380.80,106.24 1381.80,105.87 1382.80,105.51 1383.80,105.16 1384.80,104.81 1385.80,104.46 1386.80,104.11 1387.80,103.76 1388.80,103.42 1389.80,103.08 1390.80,102.75 1391.80,102.41 1392.80,102.08 1393.80,101.76 1394.80,101.43 1395.80,101.11 1396.80,100.79 1397.80,100.47 1398.80,100.16 1399.80,99.84 1400.80,99.53 1401.80,99.23 1402.80,98.92 1403.80,98.62 1404.80,98.32 1405.80,98.02 1406.80,97.73 1407.80,97.44 1408.80,97.15 1409.80,96.86 1410.80,96.58 1411.80,96.29 1412.80,96.01 1413.80,95.73 1414.80,95.46 1415.80,95.19 1416.80,94.91 1417.80,94.65 1418.80,94.38 1419.80,94.11 1420.80,93.85 1421.80,93.59 1422.80,93.33 1423.80,93.08 1424.80,92.82 1425.80,92.57 1426.80,92.32 1427.80,92.07 1428.80,91.83 1429.80,91.58 1430.80,91.34 1431.80,91.10 1432.80,90.86 1433.80,90.63 1434.80,90.39 1435.80,90.16 1436.80,89.93 1437.80,89.70 1438.80,89.48 1439.80,89.25 1440.80,89.03 1441.80,88.81 1442.80,88.59 1443.80,88.37 1444.80,88.16 1445.80,87.94 1446.80,87.73 1447.80,87.52 1448.80,87.31 1449.80,87.11 1450.80,86.90 1451.80,86.70 1452.80,86.50 1453.80,86.30 1454.80,86.10 1455.80,85.90 1456.80,85.71 1457.80,85.51 1458.80,85.32 1459.80,85.13 1460.80,84.94 1461.80,84.75 1462.80,84.57 1463.80,84.38 1464.80,84.20 1465.80,84.02 1466.80,83.84 1467.80,83.66 1468.80,83.48 1469.80,83.31 1470.80,83.14 1471.80,82.96 1472.80,82.79 1473.80,82.62 1474.80,82.45 1475.80,82.29 1476.80,82.12 1477.80,81.96 1478.80,81.79 1479.80,81.63 1480.80,81.47 1481.80,81.31 1482.80,81.16 1483.80,81.00 1484.80,80.84 1485.80,80.69 1486.80,80.54 1487.80,80.39 1488.80,80.24 1489.80,80.09 1490.80,79.94 1491.80,79.79 1492.80,79.65 1493.80,79.51 1494.80,79.36 1495.80,79.22 1496.80,79.08 1497.80,78.94 1498.80,78.80 1499.80,78.67 1500.80,78.53 1501.80,78.40 1502.80,78.26 1503.80,78.13 1504.80,78.00 1505.80,77.87 1506.80,77.74 1507.80,77.61 1508.80,77.48 1509.80,77.36 1510.80,77.23 1511.80,77.11 1512.80,76.98 1513.80,76.86 1514.80,76.74 1515.80,76.62 1516.80,76.50 1517.80,76.38 1518.80,76.27 1519.80,76.15 1520.80,76.04 1521.80,75.92 1522.80,75.81 1523.80,75.69 1524.80,75.58 1525.80,75.47 1526.80,75.36 1527.80,75.25 1528.80,75.15 1529.80,75.04 1530.80,74.93 1531.80,74.83 1532.80,74.72 1533.80,74.62 1534.80,74.52 1535.80,74.42 1536.80,74.31 1537.80,74.21 1538.80,74.11 1539.80,74.02 1540.80,73.92 1541.80,73.82 1542.80,73.73 1543.80,73.63 1544.80,73.54 1545.80,73.44 1546.80,73.35 1547.80,73.26 1548.80,73.16 1549.80,73.07 1550.80,72.98 1551.80,72.89" fill="none" stroke="#dc1a1e" stroke-width="2.2" stroke-linejoin="round" stroke-linecap="round"/>
<polyline points="1108.40,479.00 1108.65,476.61 1108.90,474.35 1109.15,472.22 1109.40,470.19 1109.65,468.26 1109.90,466.43 1110.15,464.68 1110.40,463.02 1110.65,461.43 1110.90,459.90 1111.15,458.44 1111.40,457.04 1111.65,455.69 1111.90,454.39 1112.15,453.13 1112.40,451.92 1112.65,450.75 1112.90,449.61 1113.15,448.50 1113.40,447.43 1113.65,446.38 1113.90,445.37 1114.15,444.37 1114.40,443.40 1114.65,442.45 1114.90,441.52 1115.15,440.60 1115.40,439.71 1115.65,438.83 1115.90,437.96 1116.15,437.11 1116.40,436.26 1116.65,435.43 1116.90,434.61 1117.15,433.81 1117.40,433.01 1117.65,432.21 1117.90,431.43 1118.15,430.66 1118.40,429.89 1118.65,429.12 1118.90,428.37 1119.15,427.62 1119.40,426.87 1119.65,426.13 1119.90,425.40 1120.00,425.11 1121.00,422.22 1122.00,419.39 1123.00,416.60 1124.00,413.85 1125.00,411.14 1126.00,408.46 1127.00,405.80 1128.00,403.17 1129.00,400.57 1130.00,397.98 1131.00,395.42 1132.00,392.87 1133.00,390.35 1134.00,387.84 1135.00,385.36 1136.00,382.89 1137.00,380.45 1138.00,378.02 1139.00,375.61 1140.00,373.22 1141.00,370.84 1142.00,368.48 1143.00,366.15 1144.00,363.82 1145.00,361.52 1146.00,359.23 1147.00,356.96 1148.00,354.71 1149.00,352.48 1150.00,350.26 1151.00,348.05 1152.00,345.87 1153.00,343.70 1154.00,341.55 1155.00,339.41 1156.00,337.29 1157.00,335.18 1158.00,333.09 1159.00,331.02 1160.00,328.96 1161.00,326.92 1162.00,324.89 1163.00,322.87 1164.00,320.88 1165.00,318.89 1166.00,316.93 1167.00,314.97 1168.00,313.03 1169.00,311.11 1170.00,309.20 1171.00,307.31 1172.00,305.42 1173.00,303.56 1174.00,301.70 1175.00,299.86 1176.00,298.04 1177.00,296.23 1178.00,294.43 1179.00,292.64 1180.00,290.87 1181.00,289.11 1182.00,287.37 1183.00,285.64 1184.00,283.92 1185.00,282.21 1186.00,280.52 1187.00,278.84 1188.00,277.17 1189.00,275.51 1190.00,273.87 1191.00,272.24 1192.00,270.62 1193.00,269.01 1194.00,267.42 1195.00,265.83 1196.00,264.26 1197.00,262.70 1198.00,261.15 1199.00,259.62 1200.00,258.09 1201.00,256.58 1202.00,255.08 1203.00,253.59 1204.00,252.11 1205.00,250.64 1206.00,249.18 1207.00,247.73 1208.00,246.30 1209.00,244.87 1210.00,243.46 1211.00,242.06 1212.00,240.66 1213.00,239.28 1214.00,237.91 1215.00,236.54 1216.00,235.19 1217.00,233.85 1218.00,232.52 1219.00,231.20 1220.00,229.88 1221.00,228.58 1222.00,227.29 1223.00,226.01 1224.00,224.73 1225.00,223.47 1226.00,222.21 1227.00,220.97 1228.00,219.73 1229.00,218.51 1230.00,217.29 1231.00,216.08 1232.00,214.88 1233.00,213.69 1234.00,212.51 1235.00,211.34 1236.00,210.18 1237.00,209.02 1238.00,207.87 1239.00,206.74 1240.00,205.61 1241.00,204.49 1242.00,203.37 1243.00,202.27 1244.00,201.17 1245.00,200.09 1246.00,199.01 1247.00,197.93 1248.00,196.87 1249.00,195.82 1250.00,194.77 1251.00,193.73 1252.00,192.70 1253.00,191.67 1254.00,190.66 1255.00,189.65 1256.00,188.65 1257.00,187.65 1258.00,186.66 1259.00,185.69 1260.00,184.71 1261.00,183.75 1262.00,182.79 1263.00,181.84 1264.00,180.90 1265.00,179.96 1266.00,179.03 1267.00,178.11 1268.00,177.20 1269.00,176.29 1270.00,175.39 1271.00,174.49 1272.00,173.60 1273.00,172.72 1274.00,171.85 1275.00,170.98 1276.00,170.12 1277.00,169.26 1278.00,168.41 1279.00,167.57 1280.00,166.73 1281.00,165.90 1282.00,165.08 1283.00,164.26 1284.00,163.45 1285.00,162.64 1286.00,161.84 1287.00,161.05 1288.00,160.26 1289.00,159.48 1290.00,158.71 1291.00,157.94 1292.00,157.17 1293.00,156.41 1294.00,155.66 1295.00,154.91 1296.00,154.17 1297.00,153.43 1298.00,152.70 1299.00,151.98 1300.00,151.26 1301.00,150.54 1302.00,149.84 1303.00,149.13 1304.00,148.43 1305.00,147.74 1306.00,147.05 1307.00,146.37 1308.00,145.69 1309.00,145.02 1310.00,144.35 1311.00,143.69 1312.00,143.03 1313.00,142.38 1314.00,141.73 1315.00,141.09 1316.00,140.45 1317.00,139.81 1318.00,139.18 1319.00,138.56 1320.00,137.94 1321.00,137.33 1322.00,136.72 1323.00,136.11 1324.00,135.51 1325.00,134.91 1326.00,134.32 1327.00,133.73 1328.00,133.15 1329.00,132.57 1330.00,132.00 1331.00,131.43 1332.00,130.86 1333.00,130.30 1334.00,129.74 1335.00,129.19 1336.00,128.64 1337.00,128.09 1338.00,127.55 1339.00,127.01 1340.00,126.48 1341.00,125.95 1342.00,125.43 1343.00,124.90 1344.00,124.39 1345.00,123.87 1346.00,123.36 1347.00,122.86 1348.00,122.36 1349.00,121.86 1350.00,121.36 1351.00,120.87 1352.00,120.39 1353.00,119.90 1354.00,119.42 1355.00,118.95 1356.00,118.47 1357.00,118.00 1358.00,117.54 1359.00,117.08 1360.00,116.62 1361.00,116.16 1362.00,115.71 1363.00,115.26 1364.00,114.82 1365.00,114.37 1366.00,113.94 1367.00,113.50 1368.00,113.07 1369.00,112.64 1370.00,112.21 1371.00,111.79 1372.00,111.37 1373.00,110.96 1374.00,110.54 1375.00,110.13 1376.00,109.73 1377.00,109.32 1378.00,108.92 1379.00,108.52 1380.00,108.13 1381.00,107.74 1382.00,107.35 1383.00,106.96 1384.00,106.58 1385.00,106.20 1386.00,105.82 1387.00,105.45 1388.00,105.07 1389.00,104.70 1390.00,104.34 1391.00,103.98 1392.00,103.61 1393.00,103.26 1394.00,102.90 1395.00,102.55 1396.00,102.20 1397.00,101.85 1398.00,101.51 1399.00,101.16 1400.00,100.82 1401.00,100.49 1402.00,100.15 1403.00,99.82 1404.00,99.49 1405.00,99.16 1406.00,98.84 1407.00,98.51 1408.00,98.19 1409.00,97.88 1410.00,97.56 1411.00,97.25 1412.00,96.94 1413.00,96.63 1414.00,96.32 1415.00,96.02 1416.00,95.72 1417.00,95.42 1418.00,95.12 1419.00,94.83 1420.00,94.54 1421.00,94.25 1422.00,93.96 1423.00,93.67 1424.00,93.39 1425.00,93.11 1426.00,92.83 1427.00,92.55 1428.00,92.27 1429.00,92.00 1430.00,91.73 1431.00,91.46 1432.00,91.19 1433.00,90.93 1434.00,90.66 1435.00,90.40 1436.00,90.14 1437.00,89.89 1438.00,89.63 1439.00,89.38 1440.00,89.13 1441.00,88.88 1442.00,88.63 1443.00,88.38 1444.00,88.14 1445.00,87.89 1446.00,87.65 1447.00,87.42 1448.00,87.18 1449.00,86.94 1450.00,86.71 1451.00,86.48 1452.00,86.25 1453.00,86.02 1454.00,85.79 1455.00,85.57 1456.00,85.35 1457.00,85.12 1458.00,84.90 1459.00,84.69 1460.00,84.47 1461.00,84.25 1462.00,84.04 1463.00,83.83 1464.00,83.62 1465.00,83.41 1466.00,83.20 1467.00,83.00 1468.00,82.79 1469.00,82.59 1470.00,82.39 1471.00,82.19 1472.00,81.99 1473.00,81.80 1474.00,81.60 1475.00,81.41 1476.00,81.22 1477.00,81.02 1478.00,80.84 1479.00,80.65 1480.00,80.46 1481.00,80.28 1482.00,80.09 1483.00,79.91 1484.00,79.73 1485.00,79.55 1486.00,79.37 1487.00,79.20 1488.00,79.02 1489.00,78.85 1490.00,78.67 1491.00,78.50 1492.00,78.33 1493.00,78.16 1494.00,77.99 1495.00,77.83 1496.00,77.66 1497.00,77.50 1498.00,77.33 1499.00,77.17 1500.00,77.01 1501.00,76.85 1502.00,76.70 1503.00,76.54 1504.00,76.38 1505.00,76.23 1506.00,76.08 1507.00,75.92 1508.00,75.77 1509.00,75.62 1510.00,75.47 1511.00,75.33 1512.00,75.18 1513.00,75.03 1514.00,74.89 1515.00,74.75 1516.00,74.60 1517.00,74.46 1518.00,74.32 1519.00,74.18 1520.00,74.04 1521.00,73.91 1522.00,73.77 1523.00,73.64 1524.00,73.50 1525.00,73.37 1526.00,73.24 1527.00,73.11 1528.00,72.98 1529.00,72.85 1530.00,72.72 1531.00,72.59 1532.00,72.47 1533.00,72.34 1534.00,72.22 1535.00,72.09 1536.00,71.97 1537.00,71.85 1538.00,71.73 1539.00,71.61 1540.00,71.49 1541.00,71.37 1542.00,71.26 1543.00,71.14 1544.00,71.02 1545.00,70.91 1546.00,70.80 1547.00,70.68 1548.00,70.57 1549.00,70.46 1550.00,70.35 1551.00,70.24 1552.00,70.13" fill="none" stroke="#1414b0" stroke-width="2.3" stroke-linejoin="round" stroke-linecap="round"/>
<line x1="319.70" y1="98.30" x2="319.70" y2="131.00" stroke="#000" stroke-width="2.0"/>
<polygon points="314.40,129.00 325.00,129.00 319.70,144.70" fill="#000"/>
<line x1="1107.80" y1="262.40" x2="1107.80" y2="294.80" stroke="#000" stroke-width="2.0"/>
<polygon points="1102.20,292.80 1113.40,292.80 1107.80,308.80" fill="#000"/>
<text x="4" y="36" font-size="33" font-weight="bold">a</text>
<text x="797.5" y="36" font-size="33" font-weight="bold">b</text>
<text transform="translate(168.5,35.3) scale(1,1.035)" font-size="25">TRPV6*</text>
<text transform="translate(937.2,35.3) scale(1,1.035)" font-size="25">TRPV6<tspan font-size="18.75" dy="7.9">cryst</tspan></text>
<text transform="translate(102.35,579.00) scale(1,1.07)" font-size="22" text-anchor="middle">0</text>
<text transform="translate(211.96,579.00) scale(1,1.07)" font-size="22" text-anchor="middle">100</text>
<text transform="translate(321.57,579.00) scale(1,1.07)" font-size="22" text-anchor="middle">200</text>
<text transform="translate(431.17,579.00) scale(1,1.07)" font-size="22" text-anchor="middle">300</text>
<text transform="translate(540.78,579.00) scale(1,1.07)" font-size="22" text-anchor="middle">400</text>
<text transform="translate(650.39,579.00) scale(1,1.07)" font-size="22" text-anchor="middle">500</text>
<text transform="translate(760.00,579.00) scale(1,1.07)" font-size="22" text-anchor="middle">600</text>
<text transform="translate(85.00,551.70) scale(1,1.07)" font-size="22" text-anchor="end">1.0</text>
<text transform="translate(85.00,434.43) scale(1,1.07)" font-size="22" text-anchor="end">1.5</text>
<text transform="translate(85.00,317.15) scale(1,1.07)" font-size="22" text-anchor="end">2.0</text>
<text transform="translate(85.00,199.87) scale(1,1.07)" font-size="22" text-anchor="end">2.5</text>
<text transform="translate(85.00,82.60) scale(1,1.07)" font-size="22" text-anchor="end">3.0</text>
<text transform="translate(894.80,577.40) scale(1,1.07)" font-size="22" text-anchor="middle">0</text>
<text transform="translate(1004.35,577.40) scale(1,1.07)" font-size="22" text-anchor="middle">100</text>
<text transform="translate(1113.90,577.40) scale(1,1.07)" font-size="22" text-anchor="middle">200</text>
<text transform="translate(1223.45,577.40) scale(1,1.07)" font-size="22" text-anchor="middle">300</text>
<text transform="translate(1333.00,577.40) scale(1,1.07)" font-size="22" text-anchor="middle">400</text>
<text transform="translate(1442.55,577.40) scale(1,1.07)" font-size="22" text-anchor="middle">500</text>
<text transform="translate(1552.10,577.40) scale(1,1.07)" font-size="22" text-anchor="middle">600</text>
<text transform="translate(877.20,549.50) scale(1,1.07)" font-size="22" text-anchor="end">0.8</text>
<text transform="translate(877.20,417.55) scale(1,1.07)" font-size="22" text-anchor="end">1.2</text>
<text transform="translate(877.20,285.60) scale(1,1.07)" font-size="22" text-anchor="end">1.6</text>
<text transform="translate(877.20,153.65) scale(1,1.07)" font-size="22" text-anchor="end">2.0</text>
<text transform="translate(877.20,21.70) scale(1,1.07)" font-size="22" text-anchor="end">2.4</text>
<text x="429" y="615" font-size="25" text-anchor="middle">Time (s)</text>
<text x="1222" y="615" font-size="25" text-anchor="middle">Time (s)</text>
<text transform="translate(26,282.3) rotate(-90)" font-size="25.4" text-anchor="middle">F<tspan font-size="18.75" dy="8.6">340</tspan><tspan dy="-8.6">/F</tspan><tspan font-size="18.75" dy="8.6">380</tspan></text>
<text transform="translate(819.5,282.3) rotate(-90)" font-size="25.4" text-anchor="middle">F<tspan font-size="18.75" dy="8.6">340</tspan><tspan dy="-8.6">/F</tspan><tspan font-size="18.75" dy="8.6">380</tspan></text>
<text transform="translate(296.60,87.70) scale(1,1.1)" font-size="28.5">Ca</text><text transform="translate(334.60,77.90) scale(1,1.02)" font-size="22">2+</text>
<text transform="translate(1084.90,251.80) scale(1,1.1)" font-size="28.5">Ca</text><text transform="translate(1122.90,242.00) scale(1,1.02)" font-size="22">2+</text>
<text transform="translate(148.5,301.10) scale(1,1.05)" font-size="25.3" fill="#e01212"><tspan font-family="'Liberation Serif', serif">τ</tspan><tspan font-size="19" dy="7.24">single</tspan><tspan dy="-7.24"> = 15 s</tspan></text>
<text transform="translate(1082,139.40) scale(1,1.05)" font-size="25.3" fill="#e01212"><tspan font-family="'Liberation Serif', serif">τ</tspan><tspan font-size="19" dy="7.71">single</tspan><tspan dy="-7.71"> = 137 s</tspan></text>
<text transform="translate(422.3,265.00) scale(1,1.05)" font-size="25.3" fill="#1a16c0"><tspan font-family="'Liberation Serif', serif">τ</tspan><tspan font-size="19" dy="7.62">fast</tspan><tspan dy="-7.62"> = 0.78 s</tspan></text>
<text transform="translate(422.3,301.30) scale(1,1.05)" font-size="25.3" fill="#1a16c0"><tspan font-family="'Liberation Serif', serif">τ</tspan><tspan font-size="19" dy="7.62">slow</tspan><tspan dy="-7.62"> = 53 s</tspan></text>
<text transform="translate(422.3,336.90) scale(1,1.05)" font-size="25.3" fill="#1a16c0">A<tspan font-size="19" dy="7.62">fast</tspan><tspan dy="-7.62"> = 0.56</tspan></text>
<text transform="translate(1260.0,265.00) scale(1,1.05)" font-size="25.3" fill="#1a16c0"><tspan font-family="'Liberation Serif', serif">τ</tspan><tspan font-size="19" dy="7.62">fast</tspan><tspan dy="-7.62"> = 4.7 s</tspan></text>
<text transform="translate(1260.0,301.30) scale(1,1.05)" font-size="25.3" fill="#1a16c0"><tspan font-family="'Liberation Serif', serif">τ</tspan><tspan font-size="19" dy="7.62">slow</tspan><tspan dy="-7.62"> = 119 s</tspan></text>
<text transform="translate(1260.0,336.90) scale(1,1.05)" font-size="25.3" fill="#1a16c0">A<tspan font-size="19" dy="7.62">fast</tspan><tspan dy="-7.62"> = 0.05</tspan></text>
</svg>
</body></html>
